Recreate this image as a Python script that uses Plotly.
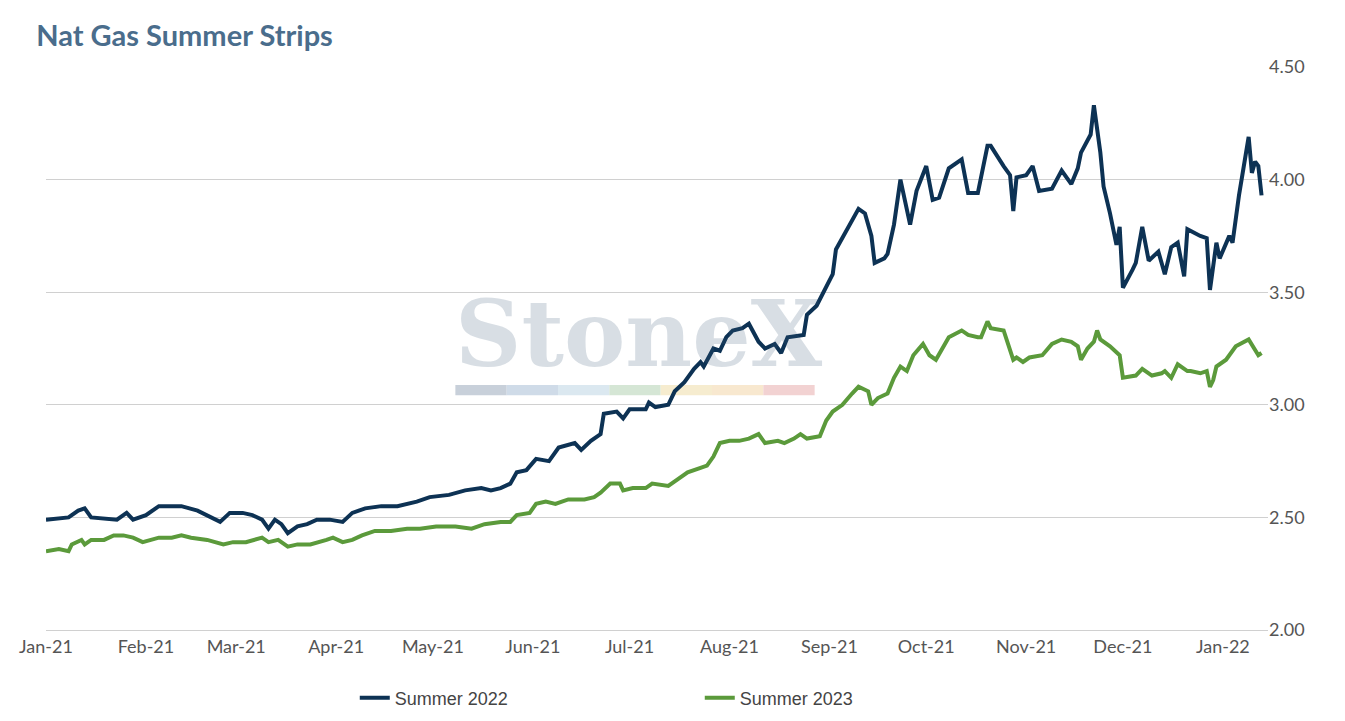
import pandas as pd
import plotly.graph_objects as go

start = pd.Timestamp("2021-01-01")

# days since 2021-01-01, price ($/MMBtu)
s22_days = [0, 7, 10, 12, 14, 22, 25, 27, 31, 35, 39, 42, 47, 51, 54, 57, 61, 64, 67, 69,
            71, 73, 75, 78, 81, 84, 88, 92, 95, 99, 104, 109, 115, 119, 125, 130, 135, 138, 141, 144,
            146, 149, 152, 156, 159, 164, 166, 169, 172, 173, 177, 179, 181, 186, 187, 189, 193, 195, 198, 201,
            203, 204, 207, 209, 211, 213, 216, 218, 221, 223, 226, 228, 230, 235, 236, 239, 241, 244, 245, 247,
            250, 252, 254, 256, 257, 260, 261, 263, 265, 266, 268, 270, 273, 275, 277, 280, 284, 286, 289, 292,
            293, 297, 299, 300, 301, 304, 306, 308, 312, 315, 318, 320, 321, 324, 325, 327, 328, 330, 332, 333,
            334, 337, 338, 340, 342, 345, 347, 349, 351, 353, 354, 358, 360, 361, 363, 364, 367, 368, 370, 373,
            374, 375, 376, 377]
s22_vals = [2.49, 2.50, 2.53, 2.54, 2.50, 2.49, 2.52, 2.49, 2.51, 2.55, 2.55, 2.55, 2.53, 2.50, 2.48, 2.52, 2.52, 2.51, 2.49, 2.45,
            2.49, 2.47, 2.43, 2.46, 2.47, 2.49, 2.49, 2.48, 2.52, 2.54, 2.55, 2.55, 2.57, 2.59, 2.60, 2.62, 2.63, 2.62, 2.63, 2.65,
            2.70, 2.71, 2.76, 2.75, 2.81, 2.83, 2.80, 2.84, 2.87, 2.96, 2.97, 2.94, 2.98, 2.98, 3.01, 2.99, 3.00, 3.06, 3.10, 3.16,
            3.19, 3.17, 3.25, 3.24, 3.30, 3.33, 3.34, 3.36, 3.28, 3.25, 3.27, 3.23, 3.30, 3.31, 3.40, 3.44, 3.50, 3.58, 3.69, 3.74,
            3.82, 3.87, 3.85, 3.75, 3.63, 3.65, 3.67, 3.80, 4.00, 3.93, 3.80, 3.95, 4.06, 3.91, 3.92, 4.05, 4.09, 3.94, 3.94, 4.15,
            4.15, 4.06, 4.02, 3.86, 4.01, 4.02, 4.06, 3.95, 3.96, 4.04, 3.98, 4.05, 4.12, 4.20, 4.33, 4.12, 3.97, 3.85, 3.71, 3.79,
            3.52, 3.60, 3.63, 3.79, 3.64, 3.68, 3.58, 3.70, 3.72, 3.57, 3.78, 3.75, 3.74, 3.51, 3.72, 3.65, 3.75, 3.72, 3.93, 4.19,
            4.03, 4.08, 4.06, 3.93]

s23_days = [0, 4, 7, 8, 11, 12, 14, 18, 21, 24, 27, 30, 35, 39, 42, 45, 50, 55, 58, 62,
            67, 69, 72, 75, 78, 82, 87, 89, 92, 95, 98, 102, 107, 112, 116, 121, 127, 132, 136, 141,
            144, 146, 150, 152, 155, 158, 160, 162, 167, 170, 172, 175, 178, 179, 182, 186, 188, 193, 196, 199,
            203, 205, 207, 209, 212, 215, 218, 221, 223, 227, 229, 232, 234, 236, 240, 242, 244, 247, 250, 252,
            255, 256, 258, 261, 263, 265, 267, 269, 272, 274, 276, 280, 284, 286, 289, 290, 292, 293, 297, 300,
            301, 303, 305, 309, 312, 315, 318, 320, 321, 323, 325, 326, 327, 330, 333, 334, 338, 340, 343, 346,
            347, 349, 351, 354, 355, 358, 360, 361, 362, 363, 366, 369, 373, 375, 376, 377]
s23_vals = [2.35, 2.36, 2.35, 2.38, 2.40, 2.38, 2.40, 2.40, 2.42, 2.42, 2.41, 2.39, 2.41, 2.41, 2.42, 2.41, 2.40, 2.38, 2.39, 2.39,
            2.41, 2.39, 2.40, 2.37, 2.38, 2.38, 2.40, 2.41, 2.39, 2.40, 2.42, 2.44, 2.44, 2.45, 2.45, 2.46, 2.46, 2.45, 2.47, 2.48,
            2.48, 2.51, 2.52, 2.56, 2.57, 2.56, 2.57, 2.58, 2.58, 2.59, 2.61, 2.65, 2.65, 2.62, 2.63, 2.63, 2.65, 2.64, 2.67, 2.70,
            2.72, 2.73, 2.77, 2.83, 2.84, 2.84, 2.85, 2.87, 2.83, 2.84, 2.83, 2.85, 2.87, 2.85, 2.86, 2.93, 2.97, 3.00, 3.05, 3.08,
            3.06, 3.00, 3.03, 3.05, 3.12, 3.17, 3.15, 3.22, 3.27, 3.22, 3.20, 3.30, 3.33, 3.31, 3.30, 3.30, 3.37, 3.34, 3.33, 3.20,
            3.21, 3.19, 3.21, 3.22, 3.27, 3.29, 3.28, 3.26, 3.20, 3.25, 3.28, 3.33, 3.29, 3.26, 3.22, 3.12, 3.13, 3.16, 3.13, 3.14,
            3.15, 3.12, 3.18, 3.15, 3.15, 3.14, 3.15, 3.08, 3.11, 3.17, 3.20, 3.26, 3.29, 3.24, 3.22, 3.23]

tick_dates = pd.date_range("2021-01-01", "2022-01-01", freq="MS")
tick_text = [d.strftime("%b-%y") for d in tick_dates]
y_ticks = [2.0, 2.5, 3.0, 3.5, 4.0, 4.5]

fig = go.Figure()
fig.add_trace(go.Scatter(x=[start + pd.Timedelta(days=d) for d in s22_days], y=s22_vals,
                         mode="lines", name="Summer 2022", line=dict(color="#0d3254", width=4)))
fig.add_trace(go.Scatter(x=[start + pd.Timedelta(days=d) for d in s23_days], y=s23_vals,
                         mode="lines", name="Summer 2023", line=dict(color="#5b9a3b", width=4)))

# watermark
fig.add_annotation(text="<b>StoneX</b>", xref="paper", yref="paper", x=0.485, y=0.525, showarrow=False,
                   font=dict(family="DejaVu Serif", size=92, color="rgba(60,90,120,0.2)"))
wm_cols = ["#c8d0da", "#cfdbe8", "#dbe8f0", "#d5e6d5", "#f6eccf", "#f8e8cf", "#f2d2d2"]
for i, c in enumerate(wm_cols):
    fig.add_shape(type="rect", xref="paper", yref="paper", x0=0.335 + i * 0.042, x1=0.335 + (i + 1) * 0.042,
                  y0=0.417, y1=0.435, fillcolor=c, line_width=0, layer="below")

fig.update_layout(
    width=1345, height=721, plot_bgcolor="white", paper_bgcolor="white",
    margin=dict(l=38, r=85, t=59, b=95),
    font=dict(family="Lato", color="#555"),
    title=dict(text="<b>Nat Gas Summer Strips</b>", x=0.021, y=0.975,
               font=dict(size=29, color="#4a6d8c", family="Lato")),
    legend=dict(orientation="h", x=0.535, xanchor="center", y=-0.088, font=dict(size=18, color="#444", family="Liberation Sans"),
                traceorder="normal", entrywidth=300, entrywidthmode="pixels"),
    xaxis=dict(range=[start, start + pd.Timedelta(days=379)], tickvals=tick_dates, ticktext=tick_text,
               showgrid=False, showline=True, linecolor="#d0d0d0", tickfont=dict(size=18, color="#555")),
    yaxis=dict(side="right", range=[2.0, 4.5], tickvals=y_ticks, tickformat=".2f",
               gridcolor="#d0d0d0", tickfont=dict(size=18, color="#555"), zeroline=False),
)
fig.write_html("out.html")
